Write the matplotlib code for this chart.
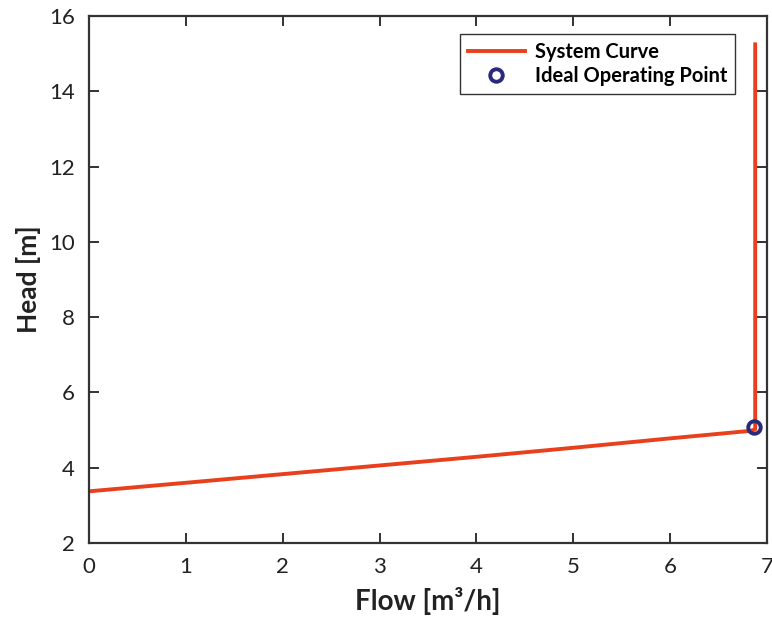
import matplotlib
matplotlib.use('Agg')
import matplotlib.pyplot as plt

plt.rcParams['font.family'] = ['Lato', 'DejaVu Sans']

# system curve: friction line then the vertical valve-closed branch
flow = [0.03, 1.0, 2.0, 3.0, 4.0, 5.0, 6.0, 6.83, 6.88, 6.88]
head = [3.38, 3.60, 3.83, 4.06, 4.29, 4.53, 4.78, 4.98, 5.02, 15.25]

op_flow = [6.87]
op_head = [5.08]

fig = plt.figure(figsize=(7.72, 6.25), dpi=100)
ax = fig.add_axes([0.1153, 0.1312, 0.878, 0.843])

ax.plot(flow, head, color='#e8401c', linewidth=2.8, label='System Curve')
ax.plot(op_flow, op_head, 'o', markersize=9, markerfacecolor='none',
        markeredgecolor='#2b2a7a', markeredgewidth=2.8, label='Ideal Operating Point')

ax.set_xlim(0, 7)
ax.set_ylim(2, 16)
ax.set_xticks(range(0, 8))
ax.set_yticks(range(2, 17, 2))
ax.tick_params(direction='in', top=True, right=True, labelsize=16,
               length=7, width=1.3, colors='#222222', pad=10)
for s in ax.spines.values():
    s.set_linewidth(1.6)
    s.set_color('#333333')

ax.set_xlabel('Flow [m³/h]', fontsize=20, fontweight='bold', color='#222222', labelpad=7)
ax.set_ylabel('Head [m]', fontsize=19, fontweight='bold', color='#222222', labelpad=6)

leg = ax.legend(loc='upper right', bbox_to_anchor=(0.968, 0.985),
                prop={'weight': 'bold', 'size': 14.5}, fancybox=False,
                edgecolor='#333333', framealpha=1, handlelength=2.8,
                borderpad=0.4, labelspacing=0.2, handletextpad=0.5)
leg.get_frame().set_linewidth(1.0)

plt.savefig('out.png')
